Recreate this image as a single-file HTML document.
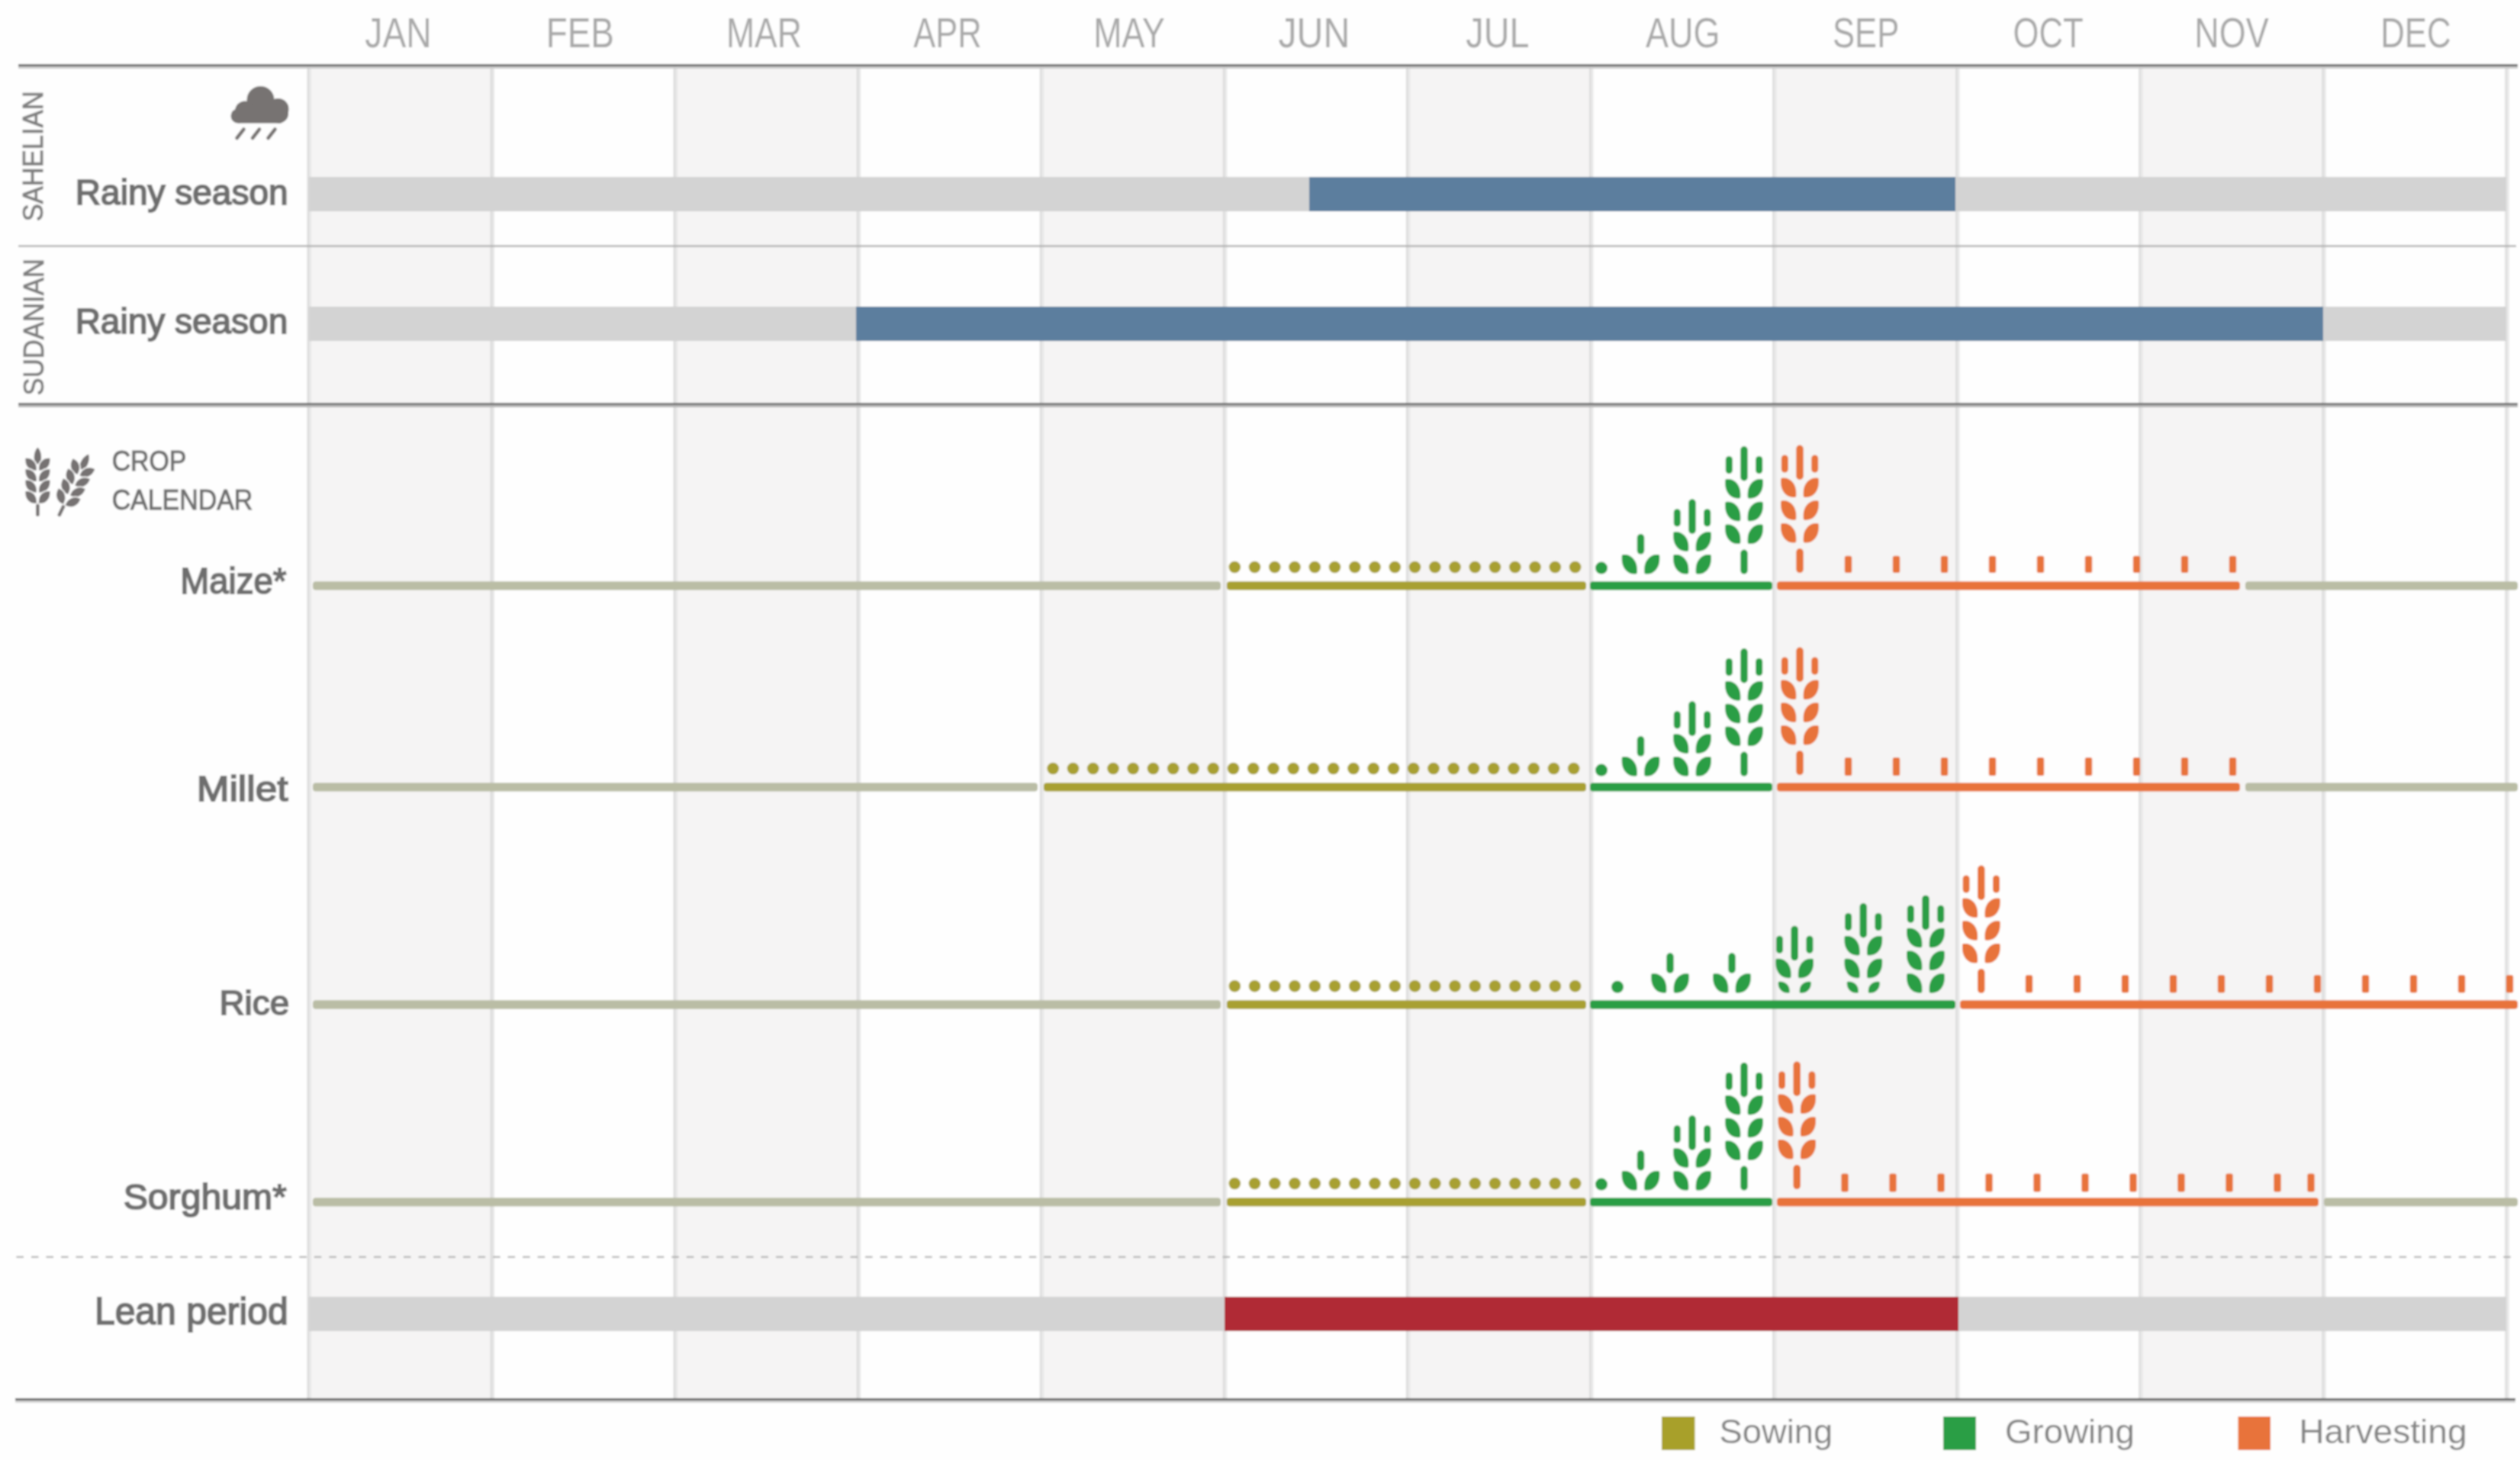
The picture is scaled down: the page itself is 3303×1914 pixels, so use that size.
<!DOCTYPE html>
<html><head><meta charset="utf-8"><style>
html,body{margin:0;padding:0;background:#fefefe;}
svg{display:block;}
</style></head><body>
<svg width="3303" height="1914" viewBox="0 0 3303 1914">
<defs><filter id="soft" x="0" y="0" width="3303" height="1914" filterUnits="userSpaceOnUse"><feGaussianBlur stdDeviation="1"/></filter></defs>
<g filter="url(#soft)">
<rect width="3303" height="1914" fill="#fefefe"/>
<rect x="405.2" y="86" width="240.1" height="1749" fill="#f5f4f4"/>
<rect x="885.3" y="86" width="240.1" height="1749" fill="#f5f4f4"/>
<rect x="1365.5" y="86" width="240.1" height="1749" fill="#f5f4f4"/>
<rect x="1845.6" y="86" width="240.1" height="1749" fill="#f5f4f4"/>
<rect x="2325.8" y="86" width="240.1" height="1749" fill="#f5f4f4"/>
<rect x="2805.9" y="86" width="240.1" height="1749" fill="#f5f4f4"/>
<rect x="402.60" y="86" width="2.3" height="1749" fill="#d9d9d9"/>
<rect x="404.90" y="86" width="3" height="1749" fill="#e7e7e7"/>
<rect x="642.67" y="86" width="2.3" height="1749" fill="#d9d9d9"/>
<rect x="644.97" y="86" width="3" height="1749" fill="#e7e7e7"/>
<rect x="882.74" y="86" width="2.3" height="1749" fill="#d9d9d9"/>
<rect x="885.04" y="86" width="3" height="1749" fill="#e7e7e7"/>
<rect x="1122.81" y="86" width="2.3" height="1749" fill="#d9d9d9"/>
<rect x="1125.11" y="86" width="3" height="1749" fill="#e7e7e7"/>
<rect x="1362.88" y="86" width="2.3" height="1749" fill="#d9d9d9"/>
<rect x="1365.18" y="86" width="3" height="1749" fill="#e7e7e7"/>
<rect x="1602.95" y="86" width="2.3" height="1749" fill="#d9d9d9"/>
<rect x="1605.25" y="86" width="3" height="1749" fill="#e7e7e7"/>
<rect x="1843.02" y="86" width="2.3" height="1749" fill="#d9d9d9"/>
<rect x="1845.32" y="86" width="3" height="1749" fill="#e7e7e7"/>
<rect x="2083.09" y="86" width="2.3" height="1749" fill="#d9d9d9"/>
<rect x="2085.39" y="86" width="3" height="1749" fill="#e7e7e7"/>
<rect x="2323.16" y="86" width="2.3" height="1749" fill="#d9d9d9"/>
<rect x="2325.46" y="86" width="3" height="1749" fill="#e7e7e7"/>
<rect x="2563.23" y="86" width="2.3" height="1749" fill="#d9d9d9"/>
<rect x="2565.53" y="86" width="3" height="1749" fill="#e7e7e7"/>
<rect x="2803.30" y="86" width="2.3" height="1749" fill="#d9d9d9"/>
<rect x="2805.60" y="86" width="3" height="1749" fill="#e7e7e7"/>
<rect x="3043.37" y="86" width="2.3" height="1749" fill="#d9d9d9"/>
<rect x="3045.67" y="86" width="3" height="1749" fill="#e7e7e7"/>
<rect x="3283.44" y="86" width="2.3" height="1749" fill="#d9d9d9"/>
<rect x="3285.74" y="86" width="3" height="1749" fill="#e7e7e7"/>
<rect x="24" y="84.3" width="3276" height="2.9" fill="#585858"/>
<rect x="24" y="87.2" width="3276" height="2.8" fill="#cacaca"/>
<rect x="24" y="321.4" width="3274" height="2.4" fill="#b0b0b0"/>
<rect x="24" y="528.3" width="3276" height="2.9" fill="#696969"/>
<rect x="24" y="531.2" width="3276" height="2.8" fill="#b8b8b8"/>
<line x1="21.45" y1="1647.9" x2="3296" y2="1647.9" stroke="#b4b4b4" stroke-width="2.2" stroke-dasharray="9.5 10.02"/>
<rect x="20" y="1833.1" width="3277" height="3" fill="#5c5c5c"/>
<rect x="20" y="1836.1" width="3277" height="2.9" fill="#d2d2d2"/>
<rect x="405" y="232" width="2880" height="45" fill="#d3d3d3"/>
<rect x="1716" y="232" width="847" height="45" fill="#5b7e9e"/>
<rect x="405" y="402" width="2880" height="45" fill="#d3d3d3"/>
<rect x="1122" y="402" width="1923" height="45" fill="#5b7e9e"/>
<rect x="405" y="1700" width="2880" height="45" fill="#d3d3d3"/>
<rect x="1605" y="1700" width="962" height="45" fill="#b02a36"/>
<rect x="410" y="762.15" width="1190" height="11.3" rx="4" fill="#babda5"/>
<rect x="1608" y="762.15" width="471" height="11.3" rx="4" fill="#a8a030"/>
<circle cx="1618.3" cy="743.5" r="7.8" fill="#a8a030"/>
<circle cx="1644.5" cy="743.5" r="7.8" fill="#a8a030"/>
<circle cx="1670.8" cy="743.5" r="7.8" fill="#a8a030"/>
<circle cx="1697.0" cy="743.5" r="7.8" fill="#a8a030"/>
<circle cx="1723.3" cy="743.5" r="7.8" fill="#a8a030"/>
<circle cx="1749.5" cy="743.5" r="7.8" fill="#a8a030"/>
<circle cx="1775.8" cy="743.5" r="7.8" fill="#a8a030"/>
<circle cx="1802.0" cy="743.5" r="7.8" fill="#a8a030"/>
<circle cx="1828.3" cy="743.5" r="7.8" fill="#a8a030"/>
<circle cx="1854.5" cy="743.5" r="7.8" fill="#a8a030"/>
<circle cx="1880.8" cy="743.5" r="7.8" fill="#a8a030"/>
<circle cx="1907.0" cy="743.5" r="7.8" fill="#a8a030"/>
<circle cx="1933.3" cy="743.5" r="7.8" fill="#a8a030"/>
<circle cx="1959.5" cy="743.5" r="7.8" fill="#a8a030"/>
<circle cx="1985.8" cy="743.5" r="7.8" fill="#a8a030"/>
<circle cx="2012.0" cy="743.5" r="7.8" fill="#a8a030"/>
<circle cx="2038.3" cy="743.5" r="7.8" fill="#a8a030"/>
<circle cx="2064.6" cy="743.5" r="7.8" fill="#a8a030"/>
<rect x="2084" y="762.15" width="239" height="11.3" rx="4" fill="#2a9e44"/>
<rect x="2329" y="762.15" width="607" height="11.3" rx="4" fill="#e8733a"/>
<rect x="2943" y="762.15" width="357" height="11.3" rx="4" fill="#babda5"/>
<circle cx="2099" cy="744.5999999999999" r="8" fill="#2a9e44"/>
<path d="M2127.70,727.10L2129.80,727.10A16,19 0 0 1 2145.80,746.10L2145.80,750.60A2,2 0 0 1 2143.80,752.60L2141.70,752.60A16,19 0 0 1 2125.70,733.60L2125.70,729.10A2,2 0 0 1 2127.70,727.10Z" fill="#2a9e44"/>
<path d="M2171.20,727.10L2173.30,727.10A2,2 0 0 1 2175.30,729.10L2175.30,733.60A16,19 0 0 1 2159.30,752.60L2157.20,752.60A2,2 0 0 1 2155.20,750.60L2155.20,746.10A16,19 0 0 1 2171.20,727.10Z" fill="#2a9e44"/>
<rect x="2145.75" y="700.10" width="9.5" height="26.50" rx="4.75" fill="#2a9e44"/>
<path d="M2195.20,727.10L2197.30,727.10A16,19 0 0 1 2213.30,746.10L2213.30,750.60A2,2 0 0 1 2211.30,752.60L2209.20,752.60A16,19 0 0 1 2193.20,733.60L2193.20,729.10A2,2 0 0 1 2195.20,727.10Z" fill="#2a9e44"/>
<path d="M2238.70,727.10L2240.80,727.10A2,2 0 0 1 2242.80,729.10L2242.80,733.60A16,19 0 0 1 2226.80,752.60L2224.70,752.60A2,2 0 0 1 2222.70,750.60L2222.70,746.10A16,19 0 0 1 2238.70,727.10Z" fill="#2a9e44"/>
<path d="M2195.20,697.30L2197.30,697.30A16,19 0 0 1 2213.30,716.30L2213.30,720.80A2,2 0 0 1 2211.30,722.80L2209.20,722.80A16,19 0 0 1 2193.20,703.80L2193.20,699.30A2,2 0 0 1 2195.20,697.30Z" fill="#2a9e44"/>
<path d="M2238.70,697.30L2240.80,697.30A2,2 0 0 1 2242.80,699.30L2242.80,703.80A16,19 0 0 1 2226.80,722.80L2224.70,722.80A2,2 0 0 1 2222.70,720.80L2222.70,716.30A16,19 0 0 1 2238.70,697.30Z" fill="#2a9e44"/>
<rect x="2213.25" y="654.30" width="9.5" height="45.50" rx="4.75" fill="#2a9e44"/>
<rect x="2193.80" y="667.30" width="9" height="23.00" rx="4.5" fill="#2a9e44"/>
<rect x="2233.20" y="667.30" width="9" height="23.00" rx="4.5" fill="#2a9e44"/>
<rect x="2281.25" y="720.60" width="9.5" height="32.00" rx="4.75" fill="#2a9e44"/>
<path d="M2263.20,687.60L2265.30,687.60A16,19 0 0 1 2281.30,706.60L2281.30,711.10A2,2 0 0 1 2279.30,713.10L2277.20,713.10A16,19 0 0 1 2261.20,694.10L2261.20,689.60A2,2 0 0 1 2263.20,687.60Z" fill="#2a9e44"/>
<path d="M2306.70,687.60L2308.80,687.60A2,2 0 0 1 2310.80,689.60L2310.80,694.10A16,19 0 0 1 2294.80,713.10L2292.70,713.10A2,2 0 0 1 2290.70,711.10L2290.70,706.60A16,19 0 0 1 2306.70,687.60Z" fill="#2a9e44"/>
<path d="M2263.20,657.80L2265.30,657.80A16,19 0 0 1 2281.30,676.80L2281.30,681.30A2,2 0 0 1 2279.30,683.30L2277.20,683.30A16,19 0 0 1 2261.20,664.30L2261.20,659.80A2,2 0 0 1 2263.20,657.80Z" fill="#2a9e44"/>
<path d="M2306.70,657.80L2308.80,657.80A2,2 0 0 1 2310.80,659.80L2310.80,664.30A16,19 0 0 1 2294.80,683.30L2292.70,683.30A2,2 0 0 1 2290.70,681.30L2290.70,676.80A16,19 0 0 1 2306.70,657.80Z" fill="#2a9e44"/>
<path d="M2263.20,628.00L2265.30,628.00A16,19 0 0 1 2281.30,647.00L2281.30,651.50A2,2 0 0 1 2279.30,653.50L2277.20,653.50A16,19 0 0 1 2261.20,634.50L2261.20,630.00A2,2 0 0 1 2263.20,628.00Z" fill="#2a9e44"/>
<path d="M2306.70,628.00L2308.80,628.00A2,2 0 0 1 2310.80,630.00L2310.80,634.50A16,19 0 0 1 2294.80,653.50L2292.70,653.50A2,2 0 0 1 2290.70,651.50L2290.70,647.00A16,19 0 0 1 2306.70,628.00Z" fill="#2a9e44"/>
<rect x="2281.25" y="585.00" width="9.5" height="45.50" rx="4.75" fill="#2a9e44"/>
<rect x="2261.80" y="598.00" width="9" height="23.00" rx="4.5" fill="#2a9e44"/>
<rect x="2301.20" y="598.00" width="9" height="23.00" rx="4.5" fill="#2a9e44"/>
<rect x="2354.25" y="719.10" width="9.5" height="32.00" rx="4.75" fill="#e8733a"/>
<path d="M2336.20,686.10L2338.30,686.10A16,19 0 0 1 2354.30,705.10L2354.30,709.60A2,2 0 0 1 2352.30,711.60L2350.20,711.60A16,19 0 0 1 2334.20,692.60L2334.20,688.10A2,2 0 0 1 2336.20,686.10Z" fill="#e8733a"/>
<path d="M2379.70,686.10L2381.80,686.10A2,2 0 0 1 2383.80,688.10L2383.80,692.60A16,19 0 0 1 2367.80,711.60L2365.70,711.60A2,2 0 0 1 2363.70,709.60L2363.70,705.10A16,19 0 0 1 2379.70,686.10Z" fill="#e8733a"/>
<path d="M2336.20,656.30L2338.30,656.30A16,19 0 0 1 2354.30,675.30L2354.30,679.80A2,2 0 0 1 2352.30,681.80L2350.20,681.80A16,19 0 0 1 2334.20,662.80L2334.20,658.30A2,2 0 0 1 2336.20,656.30Z" fill="#e8733a"/>
<path d="M2379.70,656.30L2381.80,656.30A2,2 0 0 1 2383.80,658.30L2383.80,662.80A16,19 0 0 1 2367.80,681.80L2365.70,681.80A2,2 0 0 1 2363.70,679.80L2363.70,675.30A16,19 0 0 1 2379.70,656.30Z" fill="#e8733a"/>
<path d="M2336.20,626.50L2338.30,626.50A16,19 0 0 1 2354.30,645.50L2354.30,650.00A2,2 0 0 1 2352.30,652.00L2350.20,652.00A16,19 0 0 1 2334.20,633.00L2334.20,628.50A2,2 0 0 1 2336.20,626.50Z" fill="#e8733a"/>
<path d="M2379.70,626.50L2381.80,626.50A2,2 0 0 1 2383.80,628.50L2383.80,633.00A16,19 0 0 1 2367.80,652.00L2365.70,652.00A2,2 0 0 1 2363.70,650.00L2363.70,645.50A16,19 0 0 1 2379.70,626.50Z" fill="#e8733a"/>
<rect x="2354.25" y="583.50" width="9.5" height="45.50" rx="4.75" fill="#e8733a"/>
<rect x="2334.80" y="596.50" width="9" height="23.00" rx="4.5" fill="#e8733a"/>
<rect x="2374.20" y="596.50" width="9" height="23.00" rx="4.5" fill="#e8733a"/>
<rect x="2417.8" y="728.7" width="9.4" height="22.2" rx="2.5" fill="#e8733a"/>
<rect x="2480.8" y="728.7" width="9.4" height="22.2" rx="2.5" fill="#e8733a"/>
<rect x="2543.8" y="728.7" width="9.4" height="22.2" rx="2.5" fill="#e8733a"/>
<rect x="2606.8" y="728.7" width="9.4" height="22.2" rx="2.5" fill="#e8733a"/>
<rect x="2669.8" y="728.7" width="9.4" height="22.2" rx="2.5" fill="#e8733a"/>
<rect x="2732.8" y="728.7" width="9.4" height="22.2" rx="2.5" fill="#e8733a"/>
<rect x="2795.8" y="728.7" width="9.4" height="22.2" rx="2.5" fill="#e8733a"/>
<rect x="2858.8" y="728.7" width="9.4" height="22.2" rx="2.5" fill="#e8733a"/>
<rect x="2921.8" y="728.7" width="9.4" height="22.2" rx="2.5" fill="#e8733a"/>
<rect x="410" y="1026.15" width="950" height="11.3" rx="4" fill="#babda5"/>
<rect x="1368" y="1026.15" width="711" height="11.3" rx="4" fill="#a8a030"/>
<circle cx="1380.2" cy="1007.5" r="7.8" fill="#a8a030"/>
<circle cx="1406.5" cy="1007.5" r="7.8" fill="#a8a030"/>
<circle cx="1432.7" cy="1007.5" r="7.8" fill="#a8a030"/>
<circle cx="1459.0" cy="1007.5" r="7.8" fill="#a8a030"/>
<circle cx="1485.2" cy="1007.5" r="7.8" fill="#a8a030"/>
<circle cx="1511.5" cy="1007.5" r="7.8" fill="#a8a030"/>
<circle cx="1537.7" cy="1007.5" r="7.8" fill="#a8a030"/>
<circle cx="1564.0" cy="1007.5" r="7.8" fill="#a8a030"/>
<circle cx="1590.2" cy="1007.5" r="7.8" fill="#a8a030"/>
<circle cx="1616.5" cy="1007.5" r="7.8" fill="#a8a030"/>
<circle cx="1642.7" cy="1007.5" r="7.8" fill="#a8a030"/>
<circle cx="1669.0" cy="1007.5" r="7.8" fill="#a8a030"/>
<circle cx="1695.2" cy="1007.5" r="7.8" fill="#a8a030"/>
<circle cx="1721.5" cy="1007.5" r="7.8" fill="#a8a030"/>
<circle cx="1747.7" cy="1007.5" r="7.8" fill="#a8a030"/>
<circle cx="1774.0" cy="1007.5" r="7.8" fill="#a8a030"/>
<circle cx="1800.2" cy="1007.5" r="7.8" fill="#a8a030"/>
<circle cx="1826.5" cy="1007.5" r="7.8" fill="#a8a030"/>
<circle cx="1852.7" cy="1007.5" r="7.8" fill="#a8a030"/>
<circle cx="1879.0" cy="1007.5" r="7.8" fill="#a8a030"/>
<circle cx="1905.2" cy="1007.5" r="7.8" fill="#a8a030"/>
<circle cx="1931.5" cy="1007.5" r="7.8" fill="#a8a030"/>
<circle cx="1957.7" cy="1007.5" r="7.8" fill="#a8a030"/>
<circle cx="1984.0" cy="1007.5" r="7.8" fill="#a8a030"/>
<circle cx="2010.2" cy="1007.5" r="7.8" fill="#a8a030"/>
<circle cx="2036.5" cy="1007.5" r="7.8" fill="#a8a030"/>
<circle cx="2062.7" cy="1007.5" r="7.8" fill="#a8a030"/>
<rect x="2084" y="1026.15" width="239" height="11.3" rx="4" fill="#2a9e44"/>
<rect x="2329" y="1026.15" width="607" height="11.3" rx="4" fill="#e8733a"/>
<rect x="2943" y="1026.15" width="357" height="11.3" rx="4" fill="#babda5"/>
<circle cx="2099" cy="1009.5999999999999" r="8" fill="#2a9e44"/>
<path d="M2127.70,992.10L2129.80,992.10A16,19 0 0 1 2145.80,1011.10L2145.80,1015.60A2,2 0 0 1 2143.80,1017.60L2141.70,1017.60A16,19 0 0 1 2125.70,998.60L2125.70,994.10A2,2 0 0 1 2127.70,992.10Z" fill="#2a9e44"/>
<path d="M2171.20,992.10L2173.30,992.10A2,2 0 0 1 2175.30,994.10L2175.30,998.60A16,19 0 0 1 2159.30,1017.60L2157.20,1017.60A2,2 0 0 1 2155.20,1015.60L2155.20,1011.10A16,19 0 0 1 2171.20,992.10Z" fill="#2a9e44"/>
<rect x="2145.75" y="965.10" width="9.5" height="26.50" rx="4.75" fill="#2a9e44"/>
<path d="M2195.20,992.10L2197.30,992.10A16,19 0 0 1 2213.30,1011.10L2213.30,1015.60A2,2 0 0 1 2211.30,1017.60L2209.20,1017.60A16,19 0 0 1 2193.20,998.60L2193.20,994.10A2,2 0 0 1 2195.20,992.10Z" fill="#2a9e44"/>
<path d="M2238.70,992.10L2240.80,992.10A2,2 0 0 1 2242.80,994.10L2242.80,998.60A16,19 0 0 1 2226.80,1017.60L2224.70,1017.60A2,2 0 0 1 2222.70,1015.60L2222.70,1011.10A16,19 0 0 1 2238.70,992.10Z" fill="#2a9e44"/>
<path d="M2195.20,962.30L2197.30,962.30A16,19 0 0 1 2213.30,981.30L2213.30,985.80A2,2 0 0 1 2211.30,987.80L2209.20,987.80A16,19 0 0 1 2193.20,968.80L2193.20,964.30A2,2 0 0 1 2195.20,962.30Z" fill="#2a9e44"/>
<path d="M2238.70,962.30L2240.80,962.30A2,2 0 0 1 2242.80,964.30L2242.80,968.80A16,19 0 0 1 2226.80,987.80L2224.70,987.80A2,2 0 0 1 2222.70,985.80L2222.70,981.30A16,19 0 0 1 2238.70,962.30Z" fill="#2a9e44"/>
<rect x="2213.25" y="919.30" width="9.5" height="45.50" rx="4.75" fill="#2a9e44"/>
<rect x="2193.80" y="932.30" width="9" height="23.00" rx="4.5" fill="#2a9e44"/>
<rect x="2233.20" y="932.30" width="9" height="23.00" rx="4.5" fill="#2a9e44"/>
<rect x="2281.25" y="985.60" width="9.5" height="32.00" rx="4.75" fill="#2a9e44"/>
<path d="M2263.20,952.60L2265.30,952.60A16,19 0 0 1 2281.30,971.60L2281.30,976.10A2,2 0 0 1 2279.30,978.10L2277.20,978.10A16,19 0 0 1 2261.20,959.10L2261.20,954.60A2,2 0 0 1 2263.20,952.60Z" fill="#2a9e44"/>
<path d="M2306.70,952.60L2308.80,952.60A2,2 0 0 1 2310.80,954.60L2310.80,959.10A16,19 0 0 1 2294.80,978.10L2292.70,978.10A2,2 0 0 1 2290.70,976.10L2290.70,971.60A16,19 0 0 1 2306.70,952.60Z" fill="#2a9e44"/>
<path d="M2263.20,922.80L2265.30,922.80A16,19 0 0 1 2281.30,941.80L2281.30,946.30A2,2 0 0 1 2279.30,948.30L2277.20,948.30A16,19 0 0 1 2261.20,929.30L2261.20,924.80A2,2 0 0 1 2263.20,922.80Z" fill="#2a9e44"/>
<path d="M2306.70,922.80L2308.80,922.80A2,2 0 0 1 2310.80,924.80L2310.80,929.30A16,19 0 0 1 2294.80,948.30L2292.70,948.30A2,2 0 0 1 2290.70,946.30L2290.70,941.80A16,19 0 0 1 2306.70,922.80Z" fill="#2a9e44"/>
<path d="M2263.20,893.00L2265.30,893.00A16,19 0 0 1 2281.30,912.00L2281.30,916.50A2,2 0 0 1 2279.30,918.50L2277.20,918.50A16,19 0 0 1 2261.20,899.50L2261.20,895.00A2,2 0 0 1 2263.20,893.00Z" fill="#2a9e44"/>
<path d="M2306.70,893.00L2308.80,893.00A2,2 0 0 1 2310.80,895.00L2310.80,899.50A16,19 0 0 1 2294.80,918.50L2292.70,918.50A2,2 0 0 1 2290.70,916.50L2290.70,912.00A16,19 0 0 1 2306.70,893.00Z" fill="#2a9e44"/>
<rect x="2281.25" y="850.00" width="9.5" height="45.50" rx="4.75" fill="#2a9e44"/>
<rect x="2261.80" y="863.00" width="9" height="23.00" rx="4.5" fill="#2a9e44"/>
<rect x="2301.20" y="863.00" width="9" height="23.00" rx="4.5" fill="#2a9e44"/>
<rect x="2354.25" y="984.10" width="9.5" height="32.00" rx="4.75" fill="#e8733a"/>
<path d="M2336.20,951.10L2338.30,951.10A16,19 0 0 1 2354.30,970.10L2354.30,974.60A2,2 0 0 1 2352.30,976.60L2350.20,976.60A16,19 0 0 1 2334.20,957.60L2334.20,953.10A2,2 0 0 1 2336.20,951.10Z" fill="#e8733a"/>
<path d="M2379.70,951.10L2381.80,951.10A2,2 0 0 1 2383.80,953.10L2383.80,957.60A16,19 0 0 1 2367.80,976.60L2365.70,976.60A2,2 0 0 1 2363.70,974.60L2363.70,970.10A16,19 0 0 1 2379.70,951.10Z" fill="#e8733a"/>
<path d="M2336.20,921.30L2338.30,921.30A16,19 0 0 1 2354.30,940.30L2354.30,944.80A2,2 0 0 1 2352.30,946.80L2350.20,946.80A16,19 0 0 1 2334.20,927.80L2334.20,923.30A2,2 0 0 1 2336.20,921.30Z" fill="#e8733a"/>
<path d="M2379.70,921.30L2381.80,921.30A2,2 0 0 1 2383.80,923.30L2383.80,927.80A16,19 0 0 1 2367.80,946.80L2365.70,946.80A2,2 0 0 1 2363.70,944.80L2363.70,940.30A16,19 0 0 1 2379.70,921.30Z" fill="#e8733a"/>
<path d="M2336.20,891.50L2338.30,891.50A16,19 0 0 1 2354.30,910.50L2354.30,915.00A2,2 0 0 1 2352.30,917.00L2350.20,917.00A16,19 0 0 1 2334.20,898.00L2334.20,893.50A2,2 0 0 1 2336.20,891.50Z" fill="#e8733a"/>
<path d="M2379.70,891.50L2381.80,891.50A2,2 0 0 1 2383.80,893.50L2383.80,898.00A16,19 0 0 1 2367.80,917.00L2365.70,917.00A2,2 0 0 1 2363.70,915.00L2363.70,910.50A16,19 0 0 1 2379.70,891.50Z" fill="#e8733a"/>
<rect x="2354.25" y="848.50" width="9.5" height="45.50" rx="4.75" fill="#e8733a"/>
<rect x="2334.80" y="861.50" width="9" height="23.00" rx="4.5" fill="#e8733a"/>
<rect x="2374.20" y="861.50" width="9" height="23.00" rx="4.5" fill="#e8733a"/>
<rect x="2417.8" y="992.9" width="9.4" height="24.1" rx="2.5" fill="#e8733a"/>
<rect x="2480.8" y="992.9" width="9.4" height="24.1" rx="2.5" fill="#e8733a"/>
<rect x="2543.8" y="992.9" width="9.4" height="24.1" rx="2.5" fill="#e8733a"/>
<rect x="2606.8" y="992.9" width="9.4" height="24.1" rx="2.5" fill="#e8733a"/>
<rect x="2669.8" y="992.9" width="9.4" height="24.1" rx="2.5" fill="#e8733a"/>
<rect x="2732.8" y="992.9" width="9.4" height="24.1" rx="2.5" fill="#e8733a"/>
<rect x="2795.8" y="992.9" width="9.4" height="24.1" rx="2.5" fill="#e8733a"/>
<rect x="2858.8" y="992.9" width="9.4" height="24.1" rx="2.5" fill="#e8733a"/>
<rect x="2921.8" y="992.9" width="9.4" height="24.1" rx="2.5" fill="#e8733a"/>
<rect x="410" y="1311.35" width="1190" height="11.3" rx="4" fill="#babda5"/>
<rect x="1608" y="1311.35" width="471" height="11.3" rx="4" fill="#a8a030"/>
<circle cx="1618.3" cy="1292.7" r="7.8" fill="#a8a030"/>
<circle cx="1644.5" cy="1292.7" r="7.8" fill="#a8a030"/>
<circle cx="1670.8" cy="1292.7" r="7.8" fill="#a8a030"/>
<circle cx="1697.0" cy="1292.7" r="7.8" fill="#a8a030"/>
<circle cx="1723.3" cy="1292.7" r="7.8" fill="#a8a030"/>
<circle cx="1749.5" cy="1292.7" r="7.8" fill="#a8a030"/>
<circle cx="1775.8" cy="1292.7" r="7.8" fill="#a8a030"/>
<circle cx="1802.0" cy="1292.7" r="7.8" fill="#a8a030"/>
<circle cx="1828.3" cy="1292.7" r="7.8" fill="#a8a030"/>
<circle cx="1854.5" cy="1292.7" r="7.8" fill="#a8a030"/>
<circle cx="1880.8" cy="1292.7" r="7.8" fill="#a8a030"/>
<circle cx="1907.0" cy="1292.7" r="7.8" fill="#a8a030"/>
<circle cx="1933.3" cy="1292.7" r="7.8" fill="#a8a030"/>
<circle cx="1959.5" cy="1292.7" r="7.8" fill="#a8a030"/>
<circle cx="1985.8" cy="1292.7" r="7.8" fill="#a8a030"/>
<circle cx="2012.0" cy="1292.7" r="7.8" fill="#a8a030"/>
<circle cx="2038.3" cy="1292.7" r="7.8" fill="#a8a030"/>
<circle cx="2064.6" cy="1292.7" r="7.8" fill="#a8a030"/>
<rect x="2084" y="1311.35" width="479" height="11.3" rx="4" fill="#2a9e44"/>
<rect x="2569" y="1311.35" width="731" height="11.3" rx="4" fill="#e8733a"/>
<circle cx="2120" cy="1293.8" r="8" fill="#2a9e44"/>
<path d="M2166.20,1276.30L2168.30,1276.30A16,19 0 0 1 2184.30,1295.30L2184.30,1299.80A2,2 0 0 1 2182.30,1301.80L2180.20,1301.80A16,19 0 0 1 2164.20,1282.80L2164.20,1278.30A2,2 0 0 1 2166.20,1276.30Z" fill="#2a9e44"/>
<path d="M2209.70,1276.30L2211.80,1276.30A2,2 0 0 1 2213.80,1278.30L2213.80,1282.80A16,19 0 0 1 2197.80,1301.80L2195.70,1301.80A2,2 0 0 1 2193.70,1299.80L2193.70,1295.30A16,19 0 0 1 2209.70,1276.30Z" fill="#2a9e44"/>
<rect x="2184.25" y="1249.30" width="9.5" height="26.50" rx="4.75" fill="#2a9e44"/>
<path d="M2247.20,1276.30L2249.30,1276.30A16,19 0 0 1 2265.30,1295.30L2265.30,1299.80A2,2 0 0 1 2263.30,1301.80L2261.20,1301.80A16,19 0 0 1 2245.20,1282.80L2245.20,1278.30A2,2 0 0 1 2247.20,1276.30Z" fill="#2a9e44"/>
<path d="M2290.70,1276.30L2292.80,1276.30A2,2 0 0 1 2294.80,1278.30L2294.80,1282.80A16,19 0 0 1 2278.80,1301.80L2276.70,1301.80A2,2 0 0 1 2274.70,1299.80L2274.70,1295.30A16,19 0 0 1 2290.70,1276.30Z" fill="#2a9e44"/>
<rect x="2265.25" y="1249.30" width="9.5" height="26.50" rx="4.75" fill="#2a9e44"/>
<path d="M2332.20,1286.80L2333.70,1286.80A12,12 0 0 1 2345.70,1298.80L2345.70,1300.30A1.5,1.5 0 0 1 2344.20,1301.80L2342.70,1301.80A12,12 0 0 1 2330.70,1289.80L2330.70,1288.30A1.5,1.5 0 0 1 2332.20,1286.80Z" fill="#2a9e44"/>
<path d="M2370.70,1286.80L2372.20,1286.80A1.5,1.5 0 0 1 2373.70,1288.30L2373.70,1289.80A12,12 0 0 1 2361.70,1301.80L2360.20,1301.80A1.5,1.5 0 0 1 2358.70,1300.30L2358.70,1298.80A12,12 0 0 1 2370.70,1286.80Z" fill="#2a9e44"/>
<path d="M2329.40,1256.80L2331.50,1256.80A16,19 0 0 1 2347.50,1275.80L2347.50,1280.30A2,2 0 0 1 2345.50,1282.30L2343.40,1282.30A16,19 0 0 1 2327.40,1263.30L2327.40,1258.80A2,2 0 0 1 2329.40,1256.80Z" fill="#2a9e44"/>
<path d="M2372.90,1256.80L2375.00,1256.80A2,2 0 0 1 2377.00,1258.80L2377.00,1263.30A16,19 0 0 1 2361.00,1282.30L2358.90,1282.30A2,2 0 0 1 2356.90,1280.30L2356.90,1275.80A16,19 0 0 1 2372.90,1256.80Z" fill="#2a9e44"/>
<rect x="2347.45" y="1213.80" width="9.5" height="45.50" rx="4.75" fill="#2a9e44"/>
<rect x="2328.00" y="1226.80" width="9" height="23.00" rx="4.5" fill="#2a9e44"/>
<rect x="2367.40" y="1226.80" width="9" height="23.00" rx="4.5" fill="#2a9e44"/>
<path d="M2422.30,1286.80L2423.80,1286.80A12,12 0 0 1 2435.80,1298.80L2435.80,1300.30A1.5,1.5 0 0 1 2434.30,1301.80L2432.80,1301.80A12,12 0 0 1 2420.80,1289.80L2420.80,1288.30A1.5,1.5 0 0 1 2422.30,1286.80Z" fill="#2a9e44"/>
<path d="M2460.80,1286.80L2462.30,1286.80A1.5,1.5 0 0 1 2463.80,1288.30L2463.80,1289.80A12,12 0 0 1 2451.80,1301.80L2450.30,1301.80A1.5,1.5 0 0 1 2448.80,1300.30L2448.80,1298.80A12,12 0 0 1 2460.80,1286.80Z" fill="#2a9e44"/>
<path d="M2419.50,1256.80L2421.60,1256.80A16,19 0 0 1 2437.60,1275.80L2437.60,1280.30A2,2 0 0 1 2435.60,1282.30L2433.50,1282.30A16,19 0 0 1 2417.50,1263.30L2417.50,1258.80A2,2 0 0 1 2419.50,1256.80Z" fill="#2a9e44"/>
<path d="M2463.00,1256.80L2465.10,1256.80A2,2 0 0 1 2467.10,1258.80L2467.10,1263.30A16,19 0 0 1 2451.10,1282.30L2449.00,1282.30A2,2 0 0 1 2447.00,1280.30L2447.00,1275.80A16,19 0 0 1 2463.00,1256.80Z" fill="#2a9e44"/>
<path d="M2419.50,1227.00L2421.60,1227.00A16,19 0 0 1 2437.60,1246.00L2437.60,1250.50A2,2 0 0 1 2435.60,1252.50L2433.50,1252.50A16,19 0 0 1 2417.50,1233.50L2417.50,1229.00A2,2 0 0 1 2419.50,1227.00Z" fill="#2a9e44"/>
<path d="M2463.00,1227.00L2465.10,1227.00A2,2 0 0 1 2467.10,1229.00L2467.10,1233.50A16,19 0 0 1 2451.10,1252.50L2449.00,1252.50A2,2 0 0 1 2447.00,1250.50L2447.00,1246.00A16,19 0 0 1 2463.00,1227.00Z" fill="#2a9e44"/>
<rect x="2437.55" y="1184.00" width="9.5" height="45.50" rx="4.75" fill="#2a9e44"/>
<rect x="2418.10" y="1197.00" width="9" height="23.00" rx="4.5" fill="#2a9e44"/>
<rect x="2457.50" y="1197.00" width="9" height="23.00" rx="4.5" fill="#2a9e44"/>
<path d="M2501.20,1276.30L2503.30,1276.30A16,19 0 0 1 2519.30,1295.30L2519.30,1299.80A2,2 0 0 1 2517.30,1301.80L2515.20,1301.80A16,19 0 0 1 2499.20,1282.80L2499.20,1278.30A2,2 0 0 1 2501.20,1276.30Z" fill="#2a9e44"/>
<path d="M2544.70,1276.30L2546.80,1276.30A2,2 0 0 1 2548.80,1278.30L2548.80,1282.80A16,19 0 0 1 2532.80,1301.80L2530.70,1301.80A2,2 0 0 1 2528.70,1299.80L2528.70,1295.30A16,19 0 0 1 2544.70,1276.30Z" fill="#2a9e44"/>
<path d="M2501.20,1246.50L2503.30,1246.50A16,19 0 0 1 2519.30,1265.50L2519.30,1270.00A2,2 0 0 1 2517.30,1272.00L2515.20,1272.00A16,19 0 0 1 2499.20,1253.00L2499.20,1248.50A2,2 0 0 1 2501.20,1246.50Z" fill="#2a9e44"/>
<path d="M2544.70,1246.50L2546.80,1246.50A2,2 0 0 1 2548.80,1248.50L2548.80,1253.00A16,19 0 0 1 2532.80,1272.00L2530.70,1272.00A2,2 0 0 1 2528.70,1270.00L2528.70,1265.50A16,19 0 0 1 2544.70,1246.50Z" fill="#2a9e44"/>
<path d="M2501.20,1216.70L2503.30,1216.70A16,19 0 0 1 2519.30,1235.70L2519.30,1240.20A2,2 0 0 1 2517.30,1242.20L2515.20,1242.20A16,19 0 0 1 2499.20,1223.20L2499.20,1218.70A2,2 0 0 1 2501.20,1216.70Z" fill="#2a9e44"/>
<path d="M2544.70,1216.70L2546.80,1216.70A2,2 0 0 1 2548.80,1218.70L2548.80,1223.20A16,19 0 0 1 2532.80,1242.20L2530.70,1242.20A2,2 0 0 1 2528.70,1240.20L2528.70,1235.70A16,19 0 0 1 2544.70,1216.70Z" fill="#2a9e44"/>
<rect x="2519.25" y="1173.70" width="9.5" height="45.50" rx="4.75" fill="#2a9e44"/>
<rect x="2499.80" y="1186.70" width="9" height="23.00" rx="4.5" fill="#2a9e44"/>
<rect x="2539.20" y="1186.70" width="9" height="23.00" rx="4.5" fill="#2a9e44"/>
<rect x="2592.05" y="1270.10" width="9.5" height="32.00" rx="4.75" fill="#e8733a"/>
<path d="M2574.00,1237.10L2576.10,1237.10A16,19 0 0 1 2592.10,1256.10L2592.10,1260.60A2,2 0 0 1 2590.10,1262.60L2588.00,1262.60A16,19 0 0 1 2572.00,1243.60L2572.00,1239.10A2,2 0 0 1 2574.00,1237.10Z" fill="#e8733a"/>
<path d="M2617.50,1237.10L2619.60,1237.10A2,2 0 0 1 2621.60,1239.10L2621.60,1243.60A16,19 0 0 1 2605.60,1262.60L2603.50,1262.60A2,2 0 0 1 2601.50,1260.60L2601.50,1256.10A16,19 0 0 1 2617.50,1237.10Z" fill="#e8733a"/>
<path d="M2574.00,1207.30L2576.10,1207.30A16,19 0 0 1 2592.10,1226.30L2592.10,1230.80A2,2 0 0 1 2590.10,1232.80L2588.00,1232.80A16,19 0 0 1 2572.00,1213.80L2572.00,1209.30A2,2 0 0 1 2574.00,1207.30Z" fill="#e8733a"/>
<path d="M2617.50,1207.30L2619.60,1207.30A2,2 0 0 1 2621.60,1209.30L2621.60,1213.80A16,19 0 0 1 2605.60,1232.80L2603.50,1232.80A2,2 0 0 1 2601.50,1230.80L2601.50,1226.30A16,19 0 0 1 2617.50,1207.30Z" fill="#e8733a"/>
<path d="M2574.00,1177.50L2576.10,1177.50A16,19 0 0 1 2592.10,1196.50L2592.10,1201.00A2,2 0 0 1 2590.10,1203.00L2588.00,1203.00A16,19 0 0 1 2572.00,1184.00L2572.00,1179.50A2,2 0 0 1 2574.00,1177.50Z" fill="#e8733a"/>
<path d="M2617.50,1177.50L2619.60,1177.50A2,2 0 0 1 2621.60,1179.50L2621.60,1184.00A16,19 0 0 1 2605.60,1203.00L2603.50,1203.00A2,2 0 0 1 2601.50,1201.00L2601.50,1196.50A16,19 0 0 1 2617.50,1177.50Z" fill="#e8733a"/>
<rect x="2592.05" y="1134.50" width="9.5" height="45.50" rx="4.75" fill="#e8733a"/>
<rect x="2572.60" y="1147.50" width="9" height="23.00" rx="4.5" fill="#e8733a"/>
<rect x="2612.00" y="1147.50" width="9" height="23.00" rx="4.5" fill="#e8733a"/>
<rect x="2654.8" y="1278.2" width="9.4" height="23.3" rx="2.5" fill="#e8733a"/>
<rect x="2717.8" y="1278.2" width="9.4" height="23.3" rx="2.5" fill="#e8733a"/>
<rect x="2780.8" y="1278.2" width="9.4" height="23.3" rx="2.5" fill="#e8733a"/>
<rect x="2843.8" y="1278.2" width="9.4" height="23.3" rx="2.5" fill="#e8733a"/>
<rect x="2906.8" y="1278.2" width="9.4" height="23.3" rx="2.5" fill="#e8733a"/>
<rect x="2969.8" y="1278.2" width="9.4" height="23.3" rx="2.5" fill="#e8733a"/>
<rect x="3032.8" y="1278.2" width="9.4" height="23.3" rx="2.5" fill="#e8733a"/>
<rect x="3095.8" y="1278.2" width="9.4" height="23.3" rx="2.5" fill="#e8733a"/>
<rect x="3158.8" y="1278.2" width="9.4" height="23.3" rx="2.5" fill="#e8733a"/>
<rect x="3221.8" y="1278.2" width="9.4" height="23.3" rx="2.5" fill="#e8733a"/>
<rect x="3284.8" y="1278.2" width="9.4" height="23.3" rx="2.5" fill="#e8733a"/>
<rect x="410" y="1570.15" width="1190" height="11.3" rx="4" fill="#babda5"/>
<rect x="1608" y="1570.15" width="471" height="11.3" rx="4" fill="#a8a030"/>
<circle cx="1618.3" cy="1551.5" r="7.8" fill="#a8a030"/>
<circle cx="1644.5" cy="1551.5" r="7.8" fill="#a8a030"/>
<circle cx="1670.8" cy="1551.5" r="7.8" fill="#a8a030"/>
<circle cx="1697.0" cy="1551.5" r="7.8" fill="#a8a030"/>
<circle cx="1723.3" cy="1551.5" r="7.8" fill="#a8a030"/>
<circle cx="1749.5" cy="1551.5" r="7.8" fill="#a8a030"/>
<circle cx="1775.8" cy="1551.5" r="7.8" fill="#a8a030"/>
<circle cx="1802.0" cy="1551.5" r="7.8" fill="#a8a030"/>
<circle cx="1828.3" cy="1551.5" r="7.8" fill="#a8a030"/>
<circle cx="1854.5" cy="1551.5" r="7.8" fill="#a8a030"/>
<circle cx="1880.8" cy="1551.5" r="7.8" fill="#a8a030"/>
<circle cx="1907.0" cy="1551.5" r="7.8" fill="#a8a030"/>
<circle cx="1933.3" cy="1551.5" r="7.8" fill="#a8a030"/>
<circle cx="1959.5" cy="1551.5" r="7.8" fill="#a8a030"/>
<circle cx="1985.8" cy="1551.5" r="7.8" fill="#a8a030"/>
<circle cx="2012.0" cy="1551.5" r="7.8" fill="#a8a030"/>
<circle cx="2038.3" cy="1551.5" r="7.8" fill="#a8a030"/>
<circle cx="2064.6" cy="1551.5" r="7.8" fill="#a8a030"/>
<rect x="2084" y="1570.15" width="239" height="11.3" rx="4" fill="#2a9e44"/>
<rect x="2329" y="1570.15" width="710" height="11.3" rx="4" fill="#e8733a"/>
<rect x="3046" y="1570.15" width="254" height="11.3" rx="4" fill="#babda5"/>
<circle cx="2099" cy="1552.6" r="8" fill="#2a9e44"/>
<path d="M2127.70,1535.10L2129.80,1535.10A16,19 0 0 1 2145.80,1554.10L2145.80,1558.60A2,2 0 0 1 2143.80,1560.60L2141.70,1560.60A16,19 0 0 1 2125.70,1541.60L2125.70,1537.10A2,2 0 0 1 2127.70,1535.10Z" fill="#2a9e44"/>
<path d="M2171.20,1535.10L2173.30,1535.10A2,2 0 0 1 2175.30,1537.10L2175.30,1541.60A16,19 0 0 1 2159.30,1560.60L2157.20,1560.60A2,2 0 0 1 2155.20,1558.60L2155.20,1554.10A16,19 0 0 1 2171.20,1535.10Z" fill="#2a9e44"/>
<rect x="2145.75" y="1508.10" width="9.5" height="26.50" rx="4.75" fill="#2a9e44"/>
<path d="M2195.20,1535.10L2197.30,1535.10A16,19 0 0 1 2213.30,1554.10L2213.30,1558.60A2,2 0 0 1 2211.30,1560.60L2209.20,1560.60A16,19 0 0 1 2193.20,1541.60L2193.20,1537.10A2,2 0 0 1 2195.20,1535.10Z" fill="#2a9e44"/>
<path d="M2238.70,1535.10L2240.80,1535.10A2,2 0 0 1 2242.80,1537.10L2242.80,1541.60A16,19 0 0 1 2226.80,1560.60L2224.70,1560.60A2,2 0 0 1 2222.70,1558.60L2222.70,1554.10A16,19 0 0 1 2238.70,1535.10Z" fill="#2a9e44"/>
<path d="M2195.20,1505.30L2197.30,1505.30A16,19 0 0 1 2213.30,1524.30L2213.30,1528.80A2,2 0 0 1 2211.30,1530.80L2209.20,1530.80A16,19 0 0 1 2193.20,1511.80L2193.20,1507.30A2,2 0 0 1 2195.20,1505.30Z" fill="#2a9e44"/>
<path d="M2238.70,1505.30L2240.80,1505.30A2,2 0 0 1 2242.80,1507.30L2242.80,1511.80A16,19 0 0 1 2226.80,1530.80L2224.70,1530.80A2,2 0 0 1 2222.70,1528.80L2222.70,1524.30A16,19 0 0 1 2238.70,1505.30Z" fill="#2a9e44"/>
<rect x="2213.25" y="1462.30" width="9.5" height="45.50" rx="4.75" fill="#2a9e44"/>
<rect x="2193.80" y="1475.30" width="9" height="23.00" rx="4.5" fill="#2a9e44"/>
<rect x="2233.20" y="1475.30" width="9" height="23.00" rx="4.5" fill="#2a9e44"/>
<rect x="2281.25" y="1528.60" width="9.5" height="32.00" rx="4.75" fill="#2a9e44"/>
<path d="M2263.20,1495.60L2265.30,1495.60A16,19 0 0 1 2281.30,1514.60L2281.30,1519.10A2,2 0 0 1 2279.30,1521.10L2277.20,1521.10A16,19 0 0 1 2261.20,1502.10L2261.20,1497.60A2,2 0 0 1 2263.20,1495.60Z" fill="#2a9e44"/>
<path d="M2306.70,1495.60L2308.80,1495.60A2,2 0 0 1 2310.80,1497.60L2310.80,1502.10A16,19 0 0 1 2294.80,1521.10L2292.70,1521.10A2,2 0 0 1 2290.70,1519.10L2290.70,1514.60A16,19 0 0 1 2306.70,1495.60Z" fill="#2a9e44"/>
<path d="M2263.20,1465.80L2265.30,1465.80A16,19 0 0 1 2281.30,1484.80L2281.30,1489.30A2,2 0 0 1 2279.30,1491.30L2277.20,1491.30A16,19 0 0 1 2261.20,1472.30L2261.20,1467.80A2,2 0 0 1 2263.20,1465.80Z" fill="#2a9e44"/>
<path d="M2306.70,1465.80L2308.80,1465.80A2,2 0 0 1 2310.80,1467.80L2310.80,1472.30A16,19 0 0 1 2294.80,1491.30L2292.70,1491.30A2,2 0 0 1 2290.70,1489.30L2290.70,1484.80A16,19 0 0 1 2306.70,1465.80Z" fill="#2a9e44"/>
<path d="M2263.20,1436.00L2265.30,1436.00A16,19 0 0 1 2281.30,1455.00L2281.30,1459.50A2,2 0 0 1 2279.30,1461.50L2277.20,1461.50A16,19 0 0 1 2261.20,1442.50L2261.20,1438.00A2,2 0 0 1 2263.20,1436.00Z" fill="#2a9e44"/>
<path d="M2306.70,1436.00L2308.80,1436.00A2,2 0 0 1 2310.80,1438.00L2310.80,1442.50A16,19 0 0 1 2294.80,1461.50L2292.70,1461.50A2,2 0 0 1 2290.70,1459.50L2290.70,1455.00A16,19 0 0 1 2306.70,1436.00Z" fill="#2a9e44"/>
<rect x="2281.25" y="1393.00" width="9.5" height="45.50" rx="4.75" fill="#2a9e44"/>
<rect x="2261.80" y="1406.00" width="9" height="23.00" rx="4.5" fill="#2a9e44"/>
<rect x="2301.20" y="1406.00" width="9" height="23.00" rx="4.5" fill="#2a9e44"/>
<rect x="2350.45" y="1527.10" width="9.5" height="32.00" rx="4.75" fill="#e8733a"/>
<path d="M2332.40,1494.10L2334.50,1494.10A16,19 0 0 1 2350.50,1513.10L2350.50,1517.60A2,2 0 0 1 2348.50,1519.60L2346.40,1519.60A16,19 0 0 1 2330.40,1500.60L2330.40,1496.10A2,2 0 0 1 2332.40,1494.10Z" fill="#e8733a"/>
<path d="M2375.90,1494.10L2378.00,1494.10A2,2 0 0 1 2380.00,1496.10L2380.00,1500.60A16,19 0 0 1 2364.00,1519.60L2361.90,1519.60A2,2 0 0 1 2359.90,1517.60L2359.90,1513.10A16,19 0 0 1 2375.90,1494.10Z" fill="#e8733a"/>
<path d="M2332.40,1464.30L2334.50,1464.30A16,19 0 0 1 2350.50,1483.30L2350.50,1487.80A2,2 0 0 1 2348.50,1489.80L2346.40,1489.80A16,19 0 0 1 2330.40,1470.80L2330.40,1466.30A2,2 0 0 1 2332.40,1464.30Z" fill="#e8733a"/>
<path d="M2375.90,1464.30L2378.00,1464.30A2,2 0 0 1 2380.00,1466.30L2380.00,1470.80A16,19 0 0 1 2364.00,1489.80L2361.90,1489.80A2,2 0 0 1 2359.90,1487.80L2359.90,1483.30A16,19 0 0 1 2375.90,1464.30Z" fill="#e8733a"/>
<path d="M2332.40,1434.50L2334.50,1434.50A16,19 0 0 1 2350.50,1453.50L2350.50,1458.00A2,2 0 0 1 2348.50,1460.00L2346.40,1460.00A16,19 0 0 1 2330.40,1441.00L2330.40,1436.50A2,2 0 0 1 2332.40,1434.50Z" fill="#e8733a"/>
<path d="M2375.90,1434.50L2378.00,1434.50A2,2 0 0 1 2380.00,1436.50L2380.00,1441.00A16,19 0 0 1 2364.00,1460.00L2361.90,1460.00A2,2 0 0 1 2359.90,1458.00L2359.90,1453.50A16,19 0 0 1 2375.90,1434.50Z" fill="#e8733a"/>
<rect x="2350.45" y="1391.50" width="9.5" height="45.50" rx="4.75" fill="#e8733a"/>
<rect x="2331.00" y="1404.50" width="9" height="23.00" rx="4.5" fill="#e8733a"/>
<rect x="2370.40" y="1404.50" width="9" height="23.00" rx="4.5" fill="#e8733a"/>
<rect x="2413.3" y="1538.4" width="9.4" height="24.2" rx="2.5" fill="#e8733a"/>
<rect x="2476.3" y="1538.4" width="9.4" height="24.2" rx="2.5" fill="#e8733a"/>
<rect x="2539.3" y="1538.4" width="9.4" height="24.2" rx="2.5" fill="#e8733a"/>
<rect x="2602.3" y="1538.4" width="9.4" height="24.2" rx="2.5" fill="#e8733a"/>
<rect x="2665.3" y="1538.4" width="9.4" height="24.2" rx="2.5" fill="#e8733a"/>
<rect x="2728.3" y="1538.4" width="9.4" height="24.2" rx="2.5" fill="#e8733a"/>
<rect x="2791.3" y="1538.4" width="9.4" height="24.2" rx="2.5" fill="#e8733a"/>
<rect x="2854.3" y="1538.4" width="9.4" height="24.2" rx="2.5" fill="#e8733a"/>
<rect x="2917.3" y="1538.4" width="9.4" height="24.2" rx="2.5" fill="#e8733a"/>
<rect x="2980.3" y="1538.4" width="9.4" height="24.2" rx="2.5" fill="#e8733a"/>
<rect x="3024.3" y="1538.4" width="9.4" height="24.2" rx="2.5" fill="#e8733a"/>
<g transform="translate(295 105)" fill="#777372">
<circle cx="46.5" cy="26" r="18"/>
<circle cx="69.5" cy="38" r="14"/>
<circle cx="70.5" cy="44" r="12.5"/>
<circle cx="26" cy="40.5" r="13"/>
<circle cx="17" cy="47" r="9.5"/>
<rect x="17" y="38" width="56.5" height="18.5"/>
<g stroke="#777372" stroke-width="4.6" stroke-linecap="round">
<line x1="15.5" y1="76" x2="24.5" y2="64.5"/>
<line x1="36" y1="76" x2="45" y2="64.5"/>
<line x1="56.5" y1="76" x2="65.5" y2="64.5"/>
</g></g>
<g transform="translate(49.4 677) rotate(0)" fill="#767272"><rect x="-2.3" y="-19" width="4.6" height="19" rx="2.3"/><path d="M0,-90.5C4.2,-86 5,-80 4.6,-75 4.2,-71 2.5,-69 0,-68.5 -2.5,-69 -4.2,-71 -4.6,-75 -5,-80 -4.2,-86 0,-90.5Z"/><path d="M-15.60,-77.00L-13.80,-77.00A13,14 0 0 1 -0.80,-63.00L-0.80,-60.80A1.2,1.2 0 0 1 -2.00,-59.60L-3.80,-59.60A13,14 0 0 1 -16.80,-73.60L-16.80,-75.80A1.2,1.2 0 0 1 -15.60,-77.00Z" stroke="#fefefe" stroke-width="1.6"/><path d="M13.80,-77.00L15.60,-77.00A1.2,1.2 0 0 1 16.80,-75.80L16.80,-73.60A13,14 0 0 1 3.80,-59.60L2.00,-59.60A1.2,1.2 0 0 1 0.80,-60.80L0.80,-63.00A13,14 0 0 1 13.80,-77.00Z" stroke="#fefefe" stroke-width="1.6"/><path d="M-15.60,-62.60L-13.80,-62.60A13,14 0 0 1 -0.80,-48.60L-0.80,-46.40A1.2,1.2 0 0 1 -2.00,-45.20L-3.80,-45.20A13,14 0 0 1 -16.80,-59.20L-16.80,-61.40A1.2,1.2 0 0 1 -15.60,-62.60Z" stroke="#fefefe" stroke-width="1.6"/><path d="M13.80,-62.60L15.60,-62.60A1.2,1.2 0 0 1 16.80,-61.40L16.80,-59.20A13,14 0 0 1 3.80,-45.20L2.00,-45.20A1.2,1.2 0 0 1 0.80,-46.40L0.80,-48.60A13,14 0 0 1 13.80,-62.60Z" stroke="#fefefe" stroke-width="1.6"/><path d="M-15.60,-48.20L-13.80,-48.20A13,14 0 0 1 -0.80,-34.20L-0.80,-32.00A1.2,1.2 0 0 1 -2.00,-30.80L-3.80,-30.80A13,14 0 0 1 -16.80,-44.80L-16.80,-47.00A1.2,1.2 0 0 1 -15.60,-48.20Z" stroke="#fefefe" stroke-width="1.6"/><path d="M13.80,-48.20L15.60,-48.20A1.2,1.2 0 0 1 16.80,-47.00L16.80,-44.80A13,14 0 0 1 3.80,-30.80L2.00,-30.80A1.2,1.2 0 0 1 0.80,-32.00L0.80,-34.20A13,14 0 0 1 13.80,-48.20Z" stroke="#fefefe" stroke-width="1.6"/><path d="M-15.60,-33.80L-13.80,-33.80A13,14 0 0 1 -0.80,-19.80L-0.80,-17.60A1.2,1.2 0 0 1 -2.00,-16.40L-3.80,-16.40A13,14 0 0 1 -16.80,-30.40L-16.80,-32.60A1.2,1.2 0 0 1 -15.60,-33.80Z" stroke="#fefefe" stroke-width="1.6"/><path d="M13.80,-33.80L15.60,-33.80A1.2,1.2 0 0 1 16.80,-32.60L16.80,-30.40A13,14 0 0 1 3.80,-16.40L2.00,-16.40A1.2,1.2 0 0 1 0.80,-17.60L0.80,-19.80A13,14 0 0 1 13.80,-33.80Z" stroke="#fefefe" stroke-width="1.6"/></g>
<g transform="translate(76.8 677) rotate(25.7)" fill="#767272"><rect x="-2.3" y="-19" width="4.6" height="19" rx="2.3"/><path d="M0,-90.5C4.2,-86 5,-80 4.6,-75 4.2,-71 2.5,-69 0,-68.5 -2.5,-69 -4.2,-71 -4.6,-75 -5,-80 -4.2,-86 0,-90.5Z"/><path d="M-15.60,-77.00L-13.80,-77.00A13,14 0 0 1 -0.80,-63.00L-0.80,-60.80A1.2,1.2 0 0 1 -2.00,-59.60L-3.80,-59.60A13,14 0 0 1 -16.80,-73.60L-16.80,-75.80A1.2,1.2 0 0 1 -15.60,-77.00Z" stroke="#fefefe" stroke-width="1.6"/><path d="M13.80,-77.00L15.60,-77.00A1.2,1.2 0 0 1 16.80,-75.80L16.80,-73.60A13,14 0 0 1 3.80,-59.60L2.00,-59.60A1.2,1.2 0 0 1 0.80,-60.80L0.80,-63.00A13,14 0 0 1 13.80,-77.00Z" stroke="#fefefe" stroke-width="1.6"/><path d="M-15.60,-62.60L-13.80,-62.60A13,14 0 0 1 -0.80,-48.60L-0.80,-46.40A1.2,1.2 0 0 1 -2.00,-45.20L-3.80,-45.20A13,14 0 0 1 -16.80,-59.20L-16.80,-61.40A1.2,1.2 0 0 1 -15.60,-62.60Z" stroke="#fefefe" stroke-width="1.6"/><path d="M13.80,-62.60L15.60,-62.60A1.2,1.2 0 0 1 16.80,-61.40L16.80,-59.20A13,14 0 0 1 3.80,-45.20L2.00,-45.20A1.2,1.2 0 0 1 0.80,-46.40L0.80,-48.60A13,14 0 0 1 13.80,-62.60Z" stroke="#fefefe" stroke-width="1.6"/><path d="M-15.60,-48.20L-13.80,-48.20A13,14 0 0 1 -0.80,-34.20L-0.80,-32.00A1.2,1.2 0 0 1 -2.00,-30.80L-3.80,-30.80A13,14 0 0 1 -16.80,-44.80L-16.80,-47.00A1.2,1.2 0 0 1 -15.60,-48.20Z" stroke="#fefefe" stroke-width="1.6"/><path d="M13.80,-48.20L15.60,-48.20A1.2,1.2 0 0 1 16.80,-47.00L16.80,-44.80A13,14 0 0 1 3.80,-30.80L2.00,-30.80A1.2,1.2 0 0 1 0.80,-32.00L0.80,-34.20A13,14 0 0 1 13.80,-48.20Z" stroke="#fefefe" stroke-width="1.6"/><path d="M-15.60,-33.80L-13.80,-33.80A13,14 0 0 1 -0.80,-19.80L-0.80,-17.60A1.2,1.2 0 0 1 -2.00,-16.40L-3.80,-16.40A13,14 0 0 1 -16.80,-30.40L-16.80,-32.60A1.2,1.2 0 0 1 -15.60,-33.80Z" stroke="#fefefe" stroke-width="1.6"/><path d="M13.80,-33.80L15.60,-33.80A1.2,1.2 0 0 1 16.80,-32.60L16.80,-30.40A13,14 0 0 1 3.80,-16.40L2.00,-16.40A1.2,1.2 0 0 1 0.80,-17.60L0.80,-19.80A13,14 0 0 1 13.80,-33.80Z" stroke="#fefefe" stroke-width="1.6"/></g>
<text x="478.28" y="62.4" font-family='"Liberation Sans", sans-serif' font-size="55.38" font-weight="normal" fill="#a9a9a9" textLength="87.50" lengthAdjust="spacingAndGlyphs">JAN</text>
<text x="715.74" y="62.4" font-family='"Liberation Sans", sans-serif' font-size="55.38" font-weight="normal" fill="#a9a9a9" textLength="89.18" lengthAdjust="spacingAndGlyphs">FEB</text>
<text x="951.94" y="62.4" font-family='"Liberation Sans", sans-serif' font-size="55.38" font-weight="normal" fill="#a9a9a9" textLength="99.02" lengthAdjust="spacingAndGlyphs">MAR</text>
<text x="1197.32" y="62.4" font-family='"Liberation Sans", sans-serif' font-size="55.38" font-weight="normal" fill="#a9a9a9" textLength="89.40" lengthAdjust="spacingAndGlyphs">APR</text>
<text x="1433.25" y="62.4" font-family='"Liberation Sans", sans-serif' font-size="55.38" font-weight="normal" fill="#a9a9a9" textLength="93.70" lengthAdjust="spacingAndGlyphs">MAY</text>
<text x="1675.45" y="62.4" font-family='"Liberation Sans", sans-serif' font-size="55.38" font-weight="normal" fill="#a9a9a9" textLength="93.89" lengthAdjust="spacingAndGlyphs">JUN</text>
<text x="1921.27" y="62.4" font-family='"Liberation Sans", sans-serif' font-size="55.38" font-weight="normal" fill="#a9a9a9" textLength="83.29" lengthAdjust="spacingAndGlyphs">JUL</text>
<text x="2156.91" y="62.4" font-family='"Liberation Sans", sans-serif' font-size="55.38" font-weight="normal" fill="#a9a9a9" textLength="97.45" lengthAdjust="spacingAndGlyphs">AUG</text>
<text x="2402.02" y="62.4" font-family='"Liberation Sans", sans-serif' font-size="55.38" font-weight="normal" fill="#a9a9a9" textLength="87.28" lengthAdjust="spacingAndGlyphs">SEP</text>
<text x="2638.43" y="62.4" font-family='"Liberation Sans", sans-serif' font-size="55.38" font-weight="normal" fill="#a9a9a9" textLength="92.17" lengthAdjust="spacingAndGlyphs">OCT</text>
<text x="2876.31" y="62.4" font-family='"Liberation Sans", sans-serif' font-size="55.38" font-weight="normal" fill="#a9a9a9" textLength="97.38" lengthAdjust="spacingAndGlyphs">NOV</text>
<text x="3120.21" y="62.4" font-family='"Liberation Sans", sans-serif' font-size="55.38" font-weight="normal" fill="#a9a9a9" textLength="92.46" lengthAdjust="spacingAndGlyphs">DEC</text>
<text x="98.88" y="268.4" font-family='"Liberation Sans", sans-serif' font-size="45.60" font-weight="normal" fill="#6e6e6e" stroke="#6e6e6e" stroke-width="1.9" textLength="278.76" lengthAdjust="spacingAndGlyphs">Rainy season</text>
<text x="98.68" y="437.4" font-family='"Liberation Sans", sans-serif' font-size="45.60" font-weight="normal" fill="#6e6e6e" stroke="#6e6e6e" stroke-width="1.9" textLength="278.56" lengthAdjust="spacingAndGlyphs">Rainy season</text>
<text x="146.63" y="616.8" font-family='"Liberation Sans", sans-serif' font-size="36.98" font-weight="normal" fill="#707070" stroke="#707070" stroke-width="1.1" textLength="97.60" lengthAdjust="spacingAndGlyphs">CROP</text>
<text x="146.63" y="667.5" font-family='"Liberation Sans", sans-serif' font-size="37.42" font-weight="normal" fill="#707070" stroke="#707070" stroke-width="1.1" textLength="184.70" lengthAdjust="spacingAndGlyphs">CALENDAR</text>
<text x="236.31" y="778.3" font-family='"Liberation Sans", sans-serif' font-size="48.25" font-weight="normal" fill="#6e6e6e" stroke="#6e6e6e" stroke-width="1.9" textLength="139.25" lengthAdjust="spacingAndGlyphs">Maize*</text>
<text x="257.74" y="1049.6" font-family='"Liberation Sans", sans-serif' font-size="46.65" font-weight="normal" fill="#6e6e6e" stroke="#6e6e6e" stroke-width="1.9" textLength="119.68" lengthAdjust="spacingAndGlyphs">Millet</text>
<text x="287.60" y="1329.6" font-family='"Liberation Sans", sans-serif' font-size="43.74" font-weight="normal" fill="#6e6e6e" stroke="#6e6e6e" stroke-width="1.9" textLength="91.48" lengthAdjust="spacingAndGlyphs">Rice</text>
<text x="161.76" y="1584.5" font-family='"Liberation Sans", sans-serif' font-size="46.79" font-weight="normal" fill="#6e6e6e" stroke="#6e6e6e" stroke-width="1.9" textLength="214.04" lengthAdjust="spacingAndGlyphs">Sorghum*</text>
<text x="123.91" y="1735.8" font-family='"Liberation Sans", sans-serif' font-size="49.26" font-weight="normal" fill="#6e6e6e" stroke="#6e6e6e" stroke-width="1.9" textLength="253.84" lengthAdjust="spacingAndGlyphs">Lean period</text>
<text transform="translate(55.8 289.2) rotate(-90)" x="-1.12" y="0" font-family='"Liberation Sans", sans-serif' font-size="36.75" fill="#7f7f7f" stroke="#7f7f7f" stroke-width="0.9" textLength="170.99" lengthAdjust="spacingAndGlyphs">SAHELIAN</text>
<text transform="translate(56.5 517.3) rotate(-90)" x="-1.13" y="0" font-family='"Liberation Sans", sans-serif' font-size="37.33" fill="#7f7f7f" stroke="#7f7f7f" stroke-width="0.9" textLength="179.31" lengthAdjust="spacingAndGlyphs">SUDANIAN</text>
<rect x="2178" y="1857" width="43.5" height="44" fill="#a8a02c"/>
<rect x="2547" y="1857" width="43" height="44" fill="#2a9e44"/>
<rect x="2933.5" y="1857" width="42.5" height="44" fill="#e8733a"/>
<text x="2253.54" y="1891.8" font-family='"Liberation Sans", sans-serif' font-size="44.33" font-weight="normal" fill="#858585" textLength="148.68" lengthAdjust="spacingAndGlyphs">Sowing</text>
<text x="2628.11" y="1891.8" font-family='"Liberation Sans", sans-serif' font-size="44.33" font-weight="normal" fill="#858585" textLength="169.83" lengthAdjust="spacingAndGlyphs">Growing</text>
<text x="3013.22" y="1891.8" font-family='"Liberation Sans", sans-serif' font-size="44.33" font-weight="normal" fill="#858585" textLength="220.46" lengthAdjust="spacingAndGlyphs">Harvesting</text>
</g>
</svg></body></html>
